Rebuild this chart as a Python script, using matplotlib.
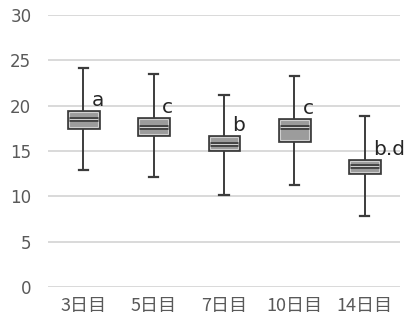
import matplotlib.pyplot as plt
import matplotlib.patheffects as pe

plt.rcParams['font.family'] = ['Noto Sans CJK JP', 'DejaVu Sans']

# Box summary per day
days = ['3日目', '5日目', '7日目', '10日目', '14日目']
whisker_lo = [12.9, 12.1, 10.2, 11.2, 7.8]
q1 = [17.7, 16.9, 15.2, 16.2, 12.7]
median = [18.5, 17.6, 15.8, 17.6, 13.4]
q3 = [19.3, 18.5, 16.5, 18.4, 13.9]
whisker_hi = [24.1, 23.5, 21.2, 23.3, 18.9]
letters = ['a', 'c', 'b', 'c', 'b.d']

stats = []
for i in range(len(days)):
    stats.append({'whislo': whisker_lo[i], 'q1': q1[i], 'med': median[i],
                  'q3': q3[i], 'whishi': whisker_hi[i], 'fliers': []})

fig = plt.figure(figsize=(4.04, 3.27), dpi=100)
ax = fig.add_axes([48/404, 40/327, 352/404, 272/327])

dark = '#3c3c3c'
pos = list(range(len(days)))
bp = ax.bxp(stats, positions=pos, widths=0.41, patch_artist=True,
            showfliers=False,
            boxprops=dict(facecolor='#9c9c9c', edgecolor='#d0d0d0', linewidth=0.8),
            medianprops=dict(color='#d0d0d0', linewidth=0.8),
            whiskerprops=dict(color=dark, linewidth=1.4),
            capprops=dict(color=dark, linewidth=1.6),
            capwidths=0.13)

# dark outline with a light inner line, like the Excel box style
fx = [pe.Stroke(linewidth=3.4, foreground=dark), pe.Normal()]
for b in bp['boxes']:
    b.set_path_effects(fx)
    b.set_zorder(3)
for m in bp['medians']:
    m.set_path_effects(fx)
    m.set_zorder(4)

for i, t in enumerate(letters):
    ax.text(pos[i] + 0.12, q3[i] + 1.3, t, fontsize=14.5, color='#262626',
            ha='left', va='center', family=['DejaVu Sans'])

ax.set_ylim(0, 30)
ax.set_xlim(-0.5, len(days) - 0.5)
ax.set_yticks(range(0, 31, 5))
ax.set_xticks(pos)
ax.set_xticklabels(days)
ax.yaxis.grid(True, color='#d9d9d9', linewidth=1.4)
ax.set_axisbelow(True)
for s in ax.spines.values():
    s.set_visible(False)
ax.tick_params(length=0, colors='#595959', labelsize=12)
ax.tick_params(axis='y', pad=12)
ax.tick_params(axis='x', pad=7, labelsize=13)
for lbl in ax.get_yticklabels():
    lbl.set_family(['DejaVu Sans'])

fig.savefig('out.png', dpi=100)
